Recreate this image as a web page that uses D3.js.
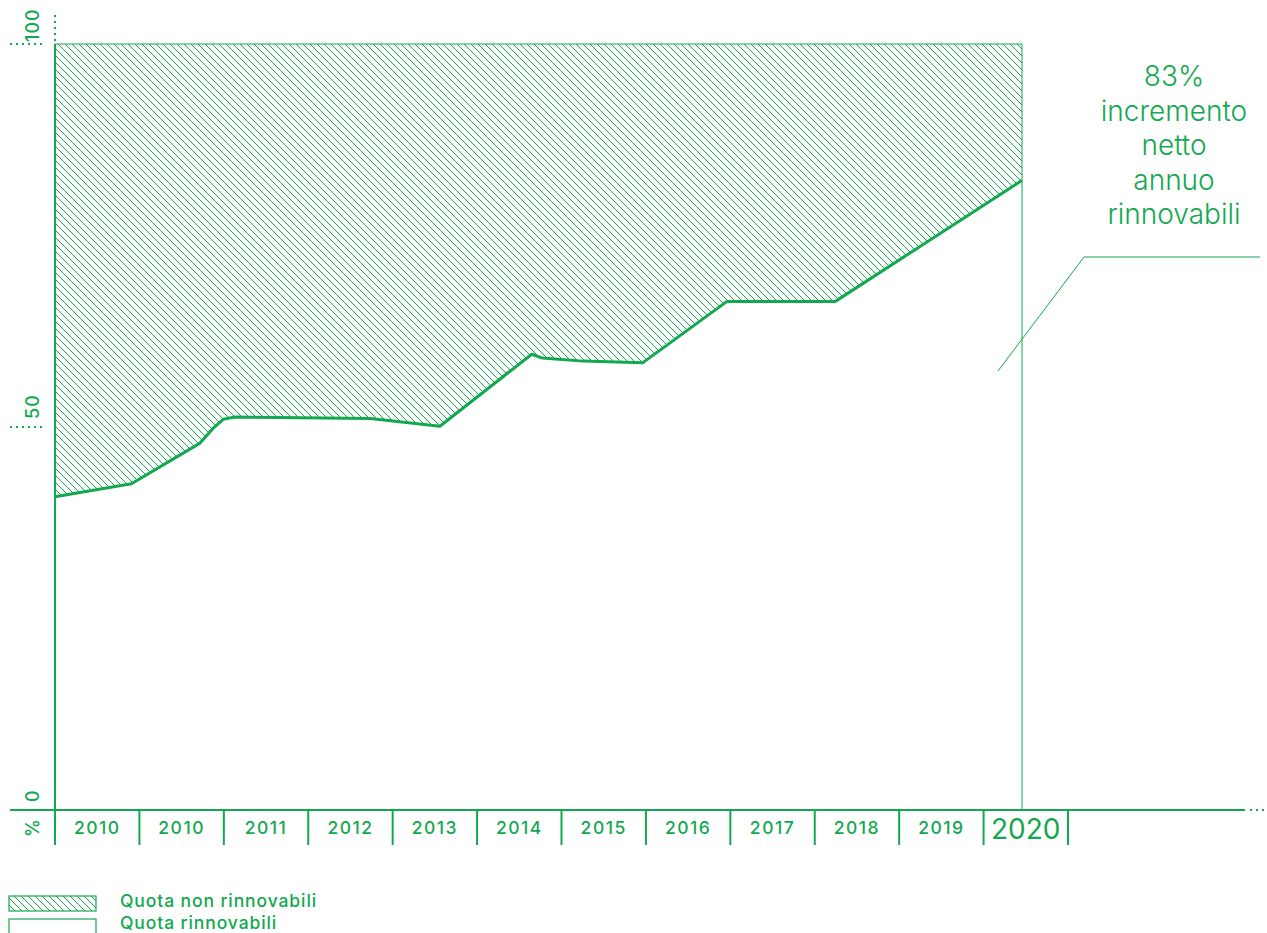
<!DOCTYPE html>
<html>
<head>
<meta charset="utf-8">
<script src="https://cdn.jsdelivr.net/npm/d3@7"></script>
<style>
  body { margin: 0; background: #fff; }
  svg { display: block; font-family: "Inter", "Roboto", sans-serif; }
</style>
</head>
<body>
<div id="chart-container"></div>
<script>
// Category labels under the x axis (the source repeats 2010)
const categories = ["2010", "2010", "2011", "2012", "2013", "2014", "2015", "2016", "2017", "2018", "2019", "2020"];
// Points of the renewable share line (x in fractional years, y in %)
const pointYears = [2010, 2010.79, 2011.50, 2011.64, 2011.74, 2011.86, 2013.26, 2013.98, 2014.93, 2015.04, 2015.46, 2016.08, 2016.95, 2018.07, 2020];
const renewableShare = [40.9, 42.6, 47.9, 49.9, 51.0, 51.3, 51.1, 50.1, 59.5, 59.0, 58.6, 58.4, 66.4, 66.4, 82.2];
const yTicks = [0, 50, 100];
const annotationLines = ["83%", "incremento", "netto", "annuo", "rinnovabili"];
const legendItems = ["Quota non rinnovabili", "Quota rinnovabili"];

const green = "#12a84f";

window.onload = () => {
  const width = 1267, height = 933;
  const svg = d3.select("#chart-container").append("svg")
    .attr("width", width).attr("height", height);

  // hatch pattern
  const defs = svg.append("defs");
  const pat = defs.append("pattern")
    .attr("id", "hatch")
    .attr("patternUnits", "userSpaceOnUse")
    .attr("width", 7).attr("height", 7);
  pat.append("path")
    .attr("d", "M-1,-1 L8,8 M-8,-1 L1,8 M6,-1 L15,8")
    .attr("stroke", green).attr("stroke-width", 1).attr("fill", "none");

  const x = d3.scaleLinear().domain([2010, 2020]).range([55, 1022]);
  const y = d3.scaleLinear().domain([0, 100]).range([810, 44]);
  const band = d3.scaleBand().domain(d3.range(categories.length)).range([55, 1068]);

  const data = pointYears.map((yr, i) => ({ yr, v: renewableShare[i] }));

  // hatched non-renewable area (from 100 down to the line)
  svg.append("path")
    .datum(data)
    .attr("fill", "url(#hatch)")
    .attr("d", d3.area()
      .x(d => x(d.yr))
      .y0(y(100))
      .y1(d => y(d.v)));

  // top border and right 2020 line
  svg.append("line")
    .attr("x1", x(2010)).attr("x2", x(2020))
    .attr("y1", y(100)).attr("y2", y(100))
    .attr("stroke", green).attr("stroke-width", 1);
  svg.append("line")
    .attr("x1", x(2020)).attr("x2", x(2020))
    .attr("y1", y(100)).attr("y2", y(0))
    .attr("stroke", green).attr("stroke-width", 1);

  // renewable line
  svg.append("path")
    .datum(data)
    .attr("fill", "none")
    .attr("stroke", green)
    .attr("stroke-width", 3)
    .attr("stroke-linejoin", "round")
    .attr("d", d3.line()
      .x(d => x(d.yr))
      .y(d => y(d.v)));

  // y axis line
  svg.append("line")
    .attr("x1", 55).attr("x2", 55)
    .attr("y1", y(100)).attr("y2", 845)
    .attr("stroke", green).attr("stroke-width", 2);
  svg.append("line")
    .attr("x1", 55).attr("x2", 55)
    .attr("y1", 15).attr("y2", y(100))
    .attr("stroke", green).attr("stroke-width", 2)
    .attr("stroke-dasharray", "2,4");

  // dotted y ticks
  svg.selectAll(".ytick")
    .data(yTicks.filter(t => t > 0))
    .enter().append("line")
    .attr("x1", 10).attr("x2", 42)
    .attr("y1", d => y(d)).attr("y2", d => y(d))
    .attr("stroke", green).attr("stroke-width", 2)
    .attr("stroke-dasharray", "2,4");

  // y tick labels (rotated)
  svg.selectAll(".ylab")
    .data(yTicks)
    .enter().append("text")
    .attr("transform", d => `translate(39,${d === 100 ? y(d) - 2 : y(d) - 8}) rotate(-90)`)
    .attr("fill", green)
    .attr("font-size", 18)
    .attr("font-weight", 500)
    .attr("letter-spacing", "1px")
    .text(d => d);
  svg.append("text")
    .attr("transform", `translate(39,837) rotate(-90)`)
    .attr("fill", green)
    .attr("font-size", 18)
    .attr("font-weight", 500)
    .text("%");

  // x axis line and dotted extension
  svg.append("line")
    .attr("x1", 10).attr("x2", 1245)
    .attr("y1", y(0)).attr("y2", y(0))
    .attr("stroke", green).attr("stroke-width", 2);
  svg.append("line")
    .attr("x1", 1250).attr("x2", 1266)
    .attr("y1", y(0)).attr("y2", y(0))
    .attr("stroke", green).attr("stroke-width", 2)
    .attr("stroke-dasharray", "2,4");

  // category separators
  const bounds = d3.range(categories.length + 1).map(i => i < categories.length ? band(i) : band(i - 1) + band.bandwidth());
  svg.selectAll(".sep")
    .data(bounds)
    .enter().append("line")
    .attr("x1", d => d).attr("x2", d => d)
    .attr("y1", y(0)).attr("y2", 845)
    .attr("stroke", green).attr("stroke-width", 2);

  // category labels
  const last = categories.length - 1;
  svg.selectAll(".xlab")
    .data(categories)
    .enter().append("text")
    .attr("x", (d, i) => band(i) + band.bandwidth() / 2)
    .attr("y", (d, i) => i === last ? 839 : 834)
    .attr("text-anchor", "middle")
    .attr("fill", green)
    .attr("font-size", (d, i) => i === last ? 28 : 17.5)
    .attr("font-weight", (d, i) => i === last ? 400 : 500)
    .attr("letter-spacing", (d, i) => i === last ? "0px" : "1.5px")
    .text(d => d);

  // annotation
  svg.selectAll(".ann")
    .data(annotationLines)
    .enter().append("text")
    .attr("x", 1174)
    .attr("y", (d, i) => 86 + i * 34.5)
    .attr("text-anchor", "middle")
    .attr("fill", green)
    .attr("font-size", 28)
    .attr("font-weight", 300)
    .text(d => d);
  svg.append("polyline")
    .attr("points", "1260,257 1084,257 998,371")
    .attr("fill", "none")
    .attr("stroke", green).attr("stroke-width", 1);

  // legend
  const legend = svg.append("g");
  legend.selectAll("rect")
    .data(legendItems)
    .enter().append("rect")
    .attr("x", 9).attr("y", (d, i) => 896 + i * 23)
    .attr("width", 87).attr("height", (d, i) => i === 0 ? 15 : 20)
    .attr("fill", (d, i) => i === 0 ? "url(#hatch)" : "#fff")
    .attr("stroke", green).attr("stroke-width", 1.2);
  legend.selectAll("text")
    .data(legendItems)
    .enter().append("text")
    .attr("x", 120).attr("y", (d, i) => 907 + i * 22)
    .attr("fill", green)
    .attr("font-size", 17.5)
    .attr("font-weight", 500)
    .attr("letter-spacing", "0.9px")
    .text(d => d);
};
</script>
</body>
</html>
